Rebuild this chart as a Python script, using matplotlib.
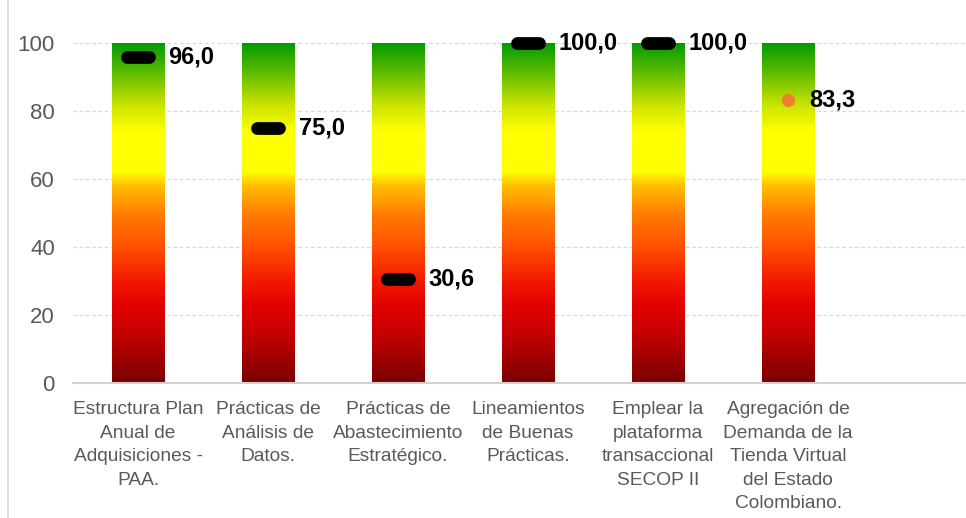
import numpy as np
import matplotlib
matplotlib.use("Agg")
import matplotlib.pyplot as plt
from matplotlib.colors import LinearSegmentedColormap
from matplotlib.lines import Line2D

categories = [
    "Estructura Plan\nAnual de\nAdquisiciones -\nPAA.",
    "Prácticas de\nAnálisis de\nDatos.",
    "Prácticas de\nAbastecimiento\nEstratégico.",
    "Lineamientos\nde Buenas\nPrácticas.",
    "Emplear la\nplataforma\ntransaccional\nSECOP II",
    "Agregación de\nDemanda de la\nTienda Virtual\ndel Estado\nColombiano.",
]
bar_max = [100, 100, 100, 100, 100, 100]
scores = [96.0, 75.0, 30.6, 100.0, 100.0, 83.3]
marker_kind = ["dash", "dash", "dash", "dash", "dash", "dot"]
yticks = [0, 20, 40, 60, 80, 100]

plt.rcParams['font.family'] = ['Liberation Sans', 'DejaVu Sans']

# red -> orange -> yellow -> green traffic-light gradient
grad = LinearSegmentedColormap.from_list("semaforo", [
    (0.00, "#7a0000"),
    (0.13, "#c00000"),
    (0.22, "#e00000"),
    (0.29, "#f01500"),
    (0.40, "#ff5000"),
    (0.50, "#ff8000"),
    (0.58, "#ffc000"),
    (0.62, "#ffff00"),
    (0.74, "#ffff00"),
    (0.82, "#c8e200"),
    (0.91, "#60bc00"),
    (1.00, "#009a00"),
])

fig = plt.figure(figsize=(9.66, 5.18), dpi=100)
ax = fig.add_axes([0.0756, 0.2606, 0.93, 0.6564])

x = np.arange(len(categories))
width = 0.40
ramp = np.linspace(0, 1, 256).reshape(-1, 1)

for i, top in enumerate(bar_max):
    ax.imshow(ramp, cmap=grad, origin="lower", aspect="auto",
              extent=[x[i] - width / 2, x[i] + width / 2, 0, top],
              interpolation="bilinear", zorder=2)

for i, v in enumerate(scores):
    label = f"{v:.1f}".replace(".", ",")
    if marker_kind[i] == "dash":
        ax.plot([x[i] - 0.085, x[i] + 0.085], [v, v], color="black", lw=9.2,
                solid_capstyle="round", zorder=4, clip_on=False)
        ax.text(x[i] + 0.235, v, label, fontsize=17,
                fontweight="bold", va="center", ha="left", color="black", zorder=5)
    else:
        ax.plot(x[i], v, "o", color="#ed7d31", markersize=9.5, zorder=4,
                markeredgewidth=0)
        ax.text(x[i] + 0.16, v, label, fontsize=17,
                fontweight="bold", va="center", ha="left", color="black", zorder=5)

ax.set_xlim(-0.5, 6.41)
ax.set_ylim(0, 100)
ax.set_yticks(yticks)
ax.set_yticklabels([str(t) for t in yticks], fontsize=16, color="#595959")
ax.set_xticks(x)
ax.set_xticklabels(categories, fontsize=13.8, color="#595959", linespacing=1.5)
ax.tick_params(axis="both", length=0)
ax.tick_params(axis="y", pad=13)
ax.tick_params(axis="x", pad=13)

for yv in yticks[1:]:
    ax.axhline(yv, color="#d9d9d9", lw=0.9, ls=(0, (3, 2)), zorder=1)

for s in ["top", "right", "left"]:
    ax.spines[s].set_visible(False)
ax.spines["bottom"].set_color("#d0d0d0")
ax.spines["bottom"].set_linewidth(1.5)

# thin frame line at the left edge of the picture
fig.add_artist(Line2D([0.008, 0.008], [0.0, 1.0], color="#d9d9d9", lw=1.2))

fig.savefig("out.png", dpi=100)
